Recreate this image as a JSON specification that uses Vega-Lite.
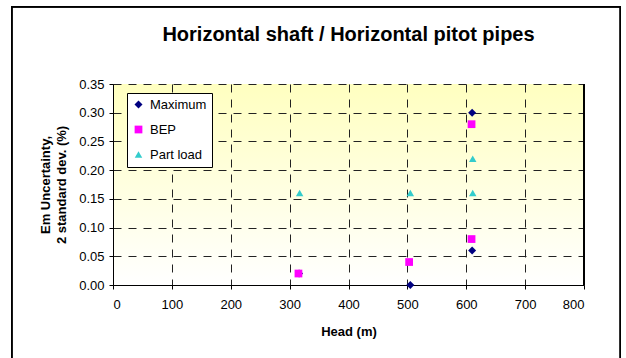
{
  "$schema": "https://vega.github.io/schema/vega-lite/v6.json",
  "autosize": "none",
  "width": 471,
  "height": 201,
  "padding": {"left": 113, "top": 84, "right": 42, "bottom": 73},
  "background": "white",
  "title": {
    "text": "Horizontal shaft / Horizontal pitot pipes",
    "anchor": "middle",
    "frame": "group",
    "font": "Liberation Sans",
    "fontSize": 20,
    "fontWeight": "bold",
    "color": "black",
    "offset": -39
  },
  "config": {
    "view": {
      "stroke": null,
      "fill": {
        "gradient": "linear",
        "x1": 0, "y1": 0, "x2": 0, "y2": 1,
        "stops": [
          {"offset": 0, "color": "#FFFFC0"},
          {"offset": 1, "color": "#FFFFFF"}
        ]
      }
    },
    "axis": {
      "labelFont": "Liberation Sans",
      "labelFontSize": 13,
      "labelColor": "black",
      "titleFont": "Liberation Sans",
      "titleFontSize": 13,
      "titleFontWeight": "bold",
      "titleColor": "black",
      "domainColor": "black",
      "domainWidth": 1,
      "tickColor": "black",
      "tickSize": 4,
      "gridColor": "#222222",
      "gridDash": [8, 7],
      "gridWidth": 1,
      "gridOpacity": 1
    },
    "legend": {
      "labelFont": "Liberation Sans",
      "labelFontSize": 13,
      "labelColor": "black"
    }
  },
  "data": {
    "values": [
      {"head": 316, "uncertainty": 0.02, "series": "Maximum"},
      {"head": 505, "uncertainty": 0.00, "series": "Maximum"},
      {"head": 610, "uncertainty": 0.06, "series": "Maximum"},
      {"head": 610, "uncertainty": 0.30, "series": "Maximum"},
      {"head": 315, "uncertainty": 0.02, "series": "BEP"},
      {"head": 503, "uncertainty": 0.04, "series": "BEP"},
      {"head": 609, "uncertainty": 0.08, "series": "BEP"},
      {"head": 609, "uncertainty": 0.28, "series": "BEP"},
      {"head": 317, "uncertainty": 0.16, "series": "Part load"},
      {"head": 505, "uncertainty": 0.16, "series": "Part load"},
      {"head": 611, "uncertainty": 0.16, "series": "Part load"},
      {"head": 611, "uncertainty": 0.22, "series": "Part load"}
    ]
  },
  "layer": [
    {
      "mark": {"type": "point", "filled": true, "opacity": 1, "strokeWidth": 0},
      "encoding": {
        "x": {
          "field": "head",
          "type": "quantitative",
          "scale": {"domain": [0, 800], "nice": false, "zero": true},
          "axis": {
            "title": "Head (m)",
            "titlePadding": 14,
            "values": [0, 100, 200, 300, 400, 500, 600, 700, 800],
            "labelPadding": 9,
            "grid": true
          }
        },
        "y": {
          "field": "uncertainty",
          "type": "quantitative",
          "scale": {"domain": [0, 0.35], "nice": false},
          "axis": {
            "title": ["Em Uncertainty,", "2 standard dev. (%)"],
            "titleLineHeight": 16,
            "titlePadding": 10,
            "values": [0, 0.05, 0.1, 0.15, 0.2, 0.25, 0.3, 0.35],
            "format": ".2f",
            "labelPadding": 5,
            "labelOverlap": false,
            "grid": true
          }
        },
        "color": {
          "field": "series",
          "type": "nominal",
          "scale": {
            "domain": ["Maximum", "BEP", "Part load"],
            "range": ["#000080", "#FF00FF", "#33CCCC"]
          },
          "legend": {
            "title": null,
            "orient": "none",
            "legendX": 14,
            "legendY": 9,
            "strokeColor": "black",
            "fillColor": "white",
            "padding": 5,
            "rowPadding": 11,
            "symbolSize": 64,
            "symbolStrokeWidth": 0,
            "labelOffset": 5
          }
        },
        "shape": {
          "field": "series",
          "type": "nominal",
          "scale": {
            "domain": ["Maximum", "BEP", "Part load"],
            "range": ["diamond", "square", "triangle-up"]
          },
          "legend": null
        },
        "size": {
          "field": "series",
          "type": "nominal",
          "scale": {
            "domain": ["Maximum", "BEP", "Part load"],
            "range": [64, 56, 130]
          },
          "legend": null
        },
        "order": {"field": "series", "sort": "descending"}
      }
    },
    {
      "mark": {"type": "rule", "color": "black", "strokeWidth": 1},
      "encoding": {
        "x": {
          "datum": 800,
          "type": "quantitative",
          "axis": {
            "title": "Head (m)",
            "titlePadding": 14,
            "values": [0, 100, 200, 300, 400, 500, 600, 700, 800],
            "labelPadding": 9,
            "grid": true
          }
        },
        "y": {
          "datum": 0,
          "type": "quantitative",
          "axis": {
            "title": ["Em Uncertainty,", "2 standard dev. (%)"],
            "titleLineHeight": 16,
            "titlePadding": 10,
            "values": [0, 0.05, 0.1, 0.15, 0.2, 0.25, 0.3, 0.35],
            "format": ".2f",
            "labelPadding": 5,
            "labelOverlap": false,
            "grid": true
          }
        },
        "y2": {"datum": 0.35}
      }
    },
    {
      "mark": {"type": "rect", "fill": null, "stroke": "black", "strokeWidth": 1, "clip": false},
      "encoding": {
        "x": {
          "datum": -172.1,
          "type": "quantitative",
          "axis": {
            "title": "Head (m)",
            "titlePadding": 14,
            "values": [0, 100, 200, 300, 400, 500, 600, 700, 800],
            "labelPadding": 9,
            "grid": true
          }
        },
        "x2": {"datum": 861.8},
        "y": {
          "datum": 0.4846,
          "type": "quantitative",
          "axis": {
            "title": ["Em Uncertainty,", "2 standard dev. (%)"],
            "titleLineHeight": 16,
            "titlePadding": 10,
            "values": [0, 0.05, 0.1, 0.15, 0.2, 0.25, 0.3, 0.35],
            "format": ".2f",
            "labelPadding": 5,
            "labelOverlap": false,
            "grid": true
          }
        },
        "y2": {"datum": -0.1353}
      }
    }
  ]
}
